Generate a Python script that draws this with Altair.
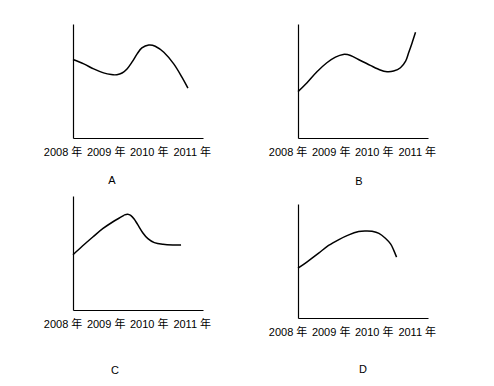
import altair as alt
import pandas as pd

# Tick labels
tick_years = [2008, 2009, 2010, 2011]
tick_labels = ["2008 年", "2009 年", "2010 年", "2011 年"]

# Panel A
A_years = [2008.23, 2008.48, 2008.71, 2008.94, 2009.12, 2009.25, 2009.37, 2009.49, 2009.60,
           2009.72, 2009.83, 2009.99, 2010.14, 2010.34, 2010.57, 2010.76, 2010.90]
A_vals = [68.8, 65.0, 60.6, 57.1, 55.6, 55.5, 57.0, 60.8, 66.5,
          73.8, 79.0, 81.6, 80.5, 75.2, 65.0, 53.4, 43.7]

# Panel B
B_years = [2008.23, 2008.44, 2008.67, 2008.90, 2009.10, 2009.28, 2009.45, 2009.68,
           2009.91, 2010.14, 2010.30, 2010.45, 2010.61, 2010.73, 2010.80, 2010.88, 2010.96]
B_vals = [40.7, 48.5, 58.1, 66.0, 70.9, 73.3, 72.4, 68.0,
          63.7, 59.6, 58.1, 58.7, 61.6, 67.4, 74.7, 83.4, 92.7]

# Panel C
C_years = [2008.23, 2008.45, 2008.69, 2008.92, 2009.15, 2009.35, 2009.43, 2009.50, 2009.57,
           2009.65, 2009.73, 2009.85, 2009.97, 2010.12, 2010.32, 2010.55, 2010.74]
C_vals = [48.5, 56.1, 64.0, 71.3, 77.2, 81.6, 83.4, 84.0, 83.0,
          79.8, 75.1, 67.8, 62.6, 59.1, 57.6, 57.0, 57.0]

# Panel D
D_years = [2008.23, 2008.48, 2008.71, 2008.94, 2009.18, 2009.41, 2009.64, 2009.80,
           2009.95, 2010.11, 2010.26, 2010.38, 2010.45, 2010.52]
D_vals = [43.7, 50.4, 56.9, 63.6, 68.8, 72.9, 75.8, 76.4,
          76.1, 74.3, 70.0, 65.0, 59.8, 53.4]

X_DOMAIN = [2008.23, 2011.25]
W, H = 130, 114
FONT = "Liberation Sans, Noto Sans CJK SC, sans-serif"

tick_df = pd.DataFrame({"year": tick_years, "label": tick_labels})


def panel(name, years, vals, title_x, title_y):
    df = pd.DataFrame({"year": years, "value": vals})
    xs = alt.Scale(domain=X_DOMAIN, nice=False, zero=False)
    xaxis = alt.Axis(title=name, domain=True, ticks=False, labels=False, grid=False,
                     titleX=title_x, titleY=title_y, titleAlign="center",
                     titleBaseline="middle", titleFontWeight="normal",
                     titleFontSize=11, titleFont=FONT, titleColor="black",
                     domainColor="black", domainWidth=1.2)
    yaxis = alt.Axis(title="", domain=True, ticks=False, labels=False, grid=False,
                     domainColor="black", domainWidth=1.2)
    line = alt.Chart(df).mark_line(color="black", strokeWidth=1.5,
                                   interpolate="cardinal").encode(
        x=alt.X("year:Q", scale=xs, axis=xaxis),
        y=alt.Y("value:Q", scale=alt.Scale(domain=[0, 100], nice=False, zero=False),
                axis=yaxis),
    )
    text = alt.Chart(tick_df).mark_text(font=FONT, fontSize=11, color="black",
                                        baseline="middle").encode(
        x=alt.X("year:Q", scale=xs, axis=xaxis),
        y=alt.value(H + 15),
        text="label:N",
    )
    return alt.layer(line, text).properties(width=W, height=H)


pA = panel("A", A_years, A_vals, 38.5, 42)
pB = panel("B", B_years, B_vals, 60.5, 43)
pC = panel("C", C_years, C_vals, 41.5, 60)
pD = panel("D", D_years, D_vals, 64.5, 51)

left = alt.vconcat(pA, pC, spacing=11)
right = alt.vconcat(pB, pD, spacing=18)
chart = alt.hconcat(left, right, spacing=56).properties(
    padding={"left": 35, "top": 16, "right": 5, "bottom": 5}
).configure_view(stroke=None)

chart.save("out.html", embed_options={"renderer": "svg", "actions": False})
